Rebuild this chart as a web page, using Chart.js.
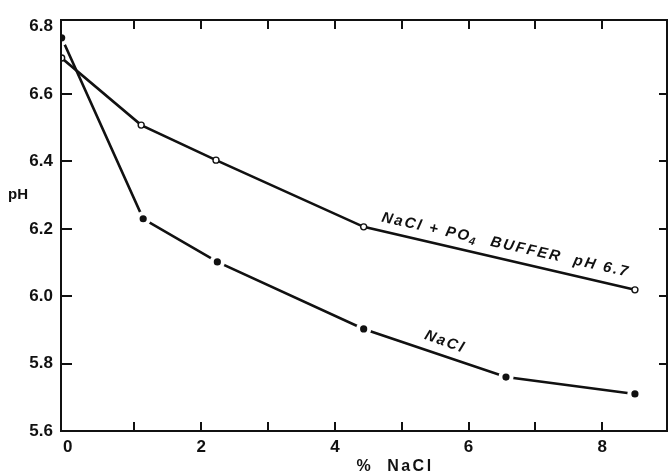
<!DOCTYPE html>
<html>
<head>
<meta charset="utf-8">
<script src="https://cdn.jsdelivr.net/npm/chart.js@4/dist/chart.umd.min.js"></script>
<style>
  html, body { margin: 0; padding: 0; background: #fff; overflow: hidden; }
  canvas { display: block; }
</style>
</head>
<body>
<canvas id="c" width="668" height="473"></canvas>
<script>
// pH of the medium against salt concentration
const naclPct    = [-0.09, 1.13, 2.24, 4.43, 6.56, 8.49];
const naclPH     = [6.767, 6.230, 6.102, 5.903, 5.760, 5.710];
const bufferPct  = [-0.09, 1.10, 2.22, 4.43, 8.49];
const bufferPH   = [6.707, 6.508, 6.404, 6.206, 6.019];

const xTickValues = [0, 1, 2, 3, 4, 5, 6, 7, 8];
const xTickLabels = ['0', '', '2', '', '4', '', '6', '', '8'];
const yTickValues = [5.6, 5.8, 6.0, 6.2, 6.4, 6.6, 6.8];
const yTickLabels = ['5.6', '5.8', '6.0', '6.2', '6.4', '6.6', '6.8'];

const INK = '#111';
const tickFont = { family: "'Liberation Sans', Arial, sans-serif", size: 17, weight: 'bold' };

const toPoints = (xs, ys) => xs.map((v, i) => ({ x: v, y: ys[i] }));

// boxed frame, inward tick marks and hand-lettered labels
const framePlugin = {
  id: 'frame',
  afterDatasetsDraw(chart) {
    const { ctx, chartArea: a, scales: { x, y } } = chart;
    ctx.save();
    ctx.strokeStyle = INK;
    ctx.lineWidth = 2;
    ctx.strokeRect(a.left, a.top, a.right - a.left, a.bottom - a.top);
    ctx.beginPath();
    xTickValues.forEach(v => {
      if (v <= 0) return;
      const px = Math.round(x.getPixelForValue(v));
      ctx.moveTo(px, a.bottom); ctx.lineTo(px, a.bottom - 9);
      ctx.moveTo(px, a.top);    ctx.lineTo(px, a.top + 9);
    });
    yTickValues.forEach(v => {
      if (v <= 5.6 || v >= 6.8) return;
      const py = Math.round(y.getPixelForValue(v));
      ctx.moveTo(a.left, py);  ctx.lineTo(a.left + 11, py);
      ctx.moveTo(a.right, py); ctx.lineTo(a.right - 8, py);
    });
    ctx.stroke();

    ctx.fillStyle = INK;
    // y-axis name
    ctx.font = "bold 15px 'Liberation Sans', Arial, sans-serif";
    ctx.textAlign = 'left';
    ctx.textBaseline = 'middle';
    ctx.fillText('pH', 8, y.getPixelForValue(6.30));

    // x-axis name
    ctx.font = "bold 16px 'Liberation Sans', Arial, sans-serif";
    ctx.letterSpacing = '2.5px';
    ctx.textAlign = 'center';
    ctx.textBaseline = 'alphabetic';
    ctx.fillText('%  NaCl', x.getPixelForValue(4.9), a.bottom + 40);

    // curve labels, lettered along each line
    const big = "italic bold 15px 'Liberation Sans', Arial, sans-serif";
    const small = "italic bold 11px 'Liberation Sans', Arial, sans-serif";
    ctx.font = big;
    ctx.letterSpacing = '2px';
    ctx.textAlign = 'left';
    ctx.save();
    ctx.translate(x.getPixelForValue(4.69), y.getPixelForValue(6.222));
    ctx.rotate(12.6 * Math.PI / 180);
    let cx = 0;
    const part1 = 'NaCl + PO';
    ctx.fillText(part1, cx, 0);
    cx += ctx.measureText(part1).width;
    ctx.font = small;
    ctx.fillText('4', cx - 1, 3);
    cx += ctx.measureText('4').width;
    ctx.font = big;
    ctx.fillText('  BUFFER  pH 6.7', cx, 0);
    ctx.restore();

    ctx.save();
    ctx.translate(x.getPixelForValue(5.33), y.getPixelForValue(5.874));
    ctx.rotate(20 * Math.PI / 180);
    ctx.fillText('NaCl', 0, 0);
    ctx.restore();

    ctx.restore();
  }
};

new Chart(document.getElementById('c'), {
  type: 'line',
  data: {
    datasets: [
      {
        label: 'NaCl',
        data: toPoints(naclPct, naclPH),
        borderColor: INK,
        borderWidth: 2.6,
        pointRadius: 5.6,
        pointBackgroundColor: INK,
        pointBorderColor: '#fff',
        pointBorderWidth: 4,
        tension: 0
      },
      {
        label: 'NaCl + PO4 buffer pH 6.7',
        data: toPoints(bufferPct, bufferPH),
        borderColor: INK,
        borderWidth: 2.6,
        pointRadius: 3,
        pointBackgroundColor: '#fff',
        pointBorderColor: INK,
        pointBorderWidth: 1.4,
        tension: 0
      }
    ]
  },
  options: {
    responsive: false,
    animation: false,
    events: [],
    layout: { autoPadding: false, padding: { top: 20, right: 1, left: 0, bottom: 0 } },
    plugins: { legend: { display: false }, tooltip: { enabled: false } },
    scales: {
      x: {
        type: 'linear',
        min: -0.1,
        max: 8.97,
        afterBuildTicks: s => { s.ticks = xTickValues.map(v => ({ value: v })); },
        afterFit: s => { s.height = 42; s.paddingLeft = 0; s.paddingRight = 0; },
        ticks: {
          color: INK,
          font: tickFont,
          padding: 6,
          autoSkip: false,
          maxRotation: 0,
          callback: (v, i) => xTickLabels[i]
        },
        grid: { display: false, drawTicks: false },
        border: { display: false }
      },
      y: {
        type: 'linear',
        min: 5.6,
        max: 6.82,
        afterBuildTicks: s => { s.ticks = yTickValues.map(v => ({ value: v })); },
        afterFit: s => { s.width = 61; s.paddingTop = 0; s.paddingBottom = 0; },
        ticks: {
          color: INK,
          font: tickFont,
          padding: 8,
          autoSkip: false,
          callback: (v, i) => yTickLabels[i]
        },
        grid: { display: false, drawTicks: false },
        border: { display: false }
      }
    }
  },
  plugins: [framePlugin]
});
</script>
</body>
</html>
